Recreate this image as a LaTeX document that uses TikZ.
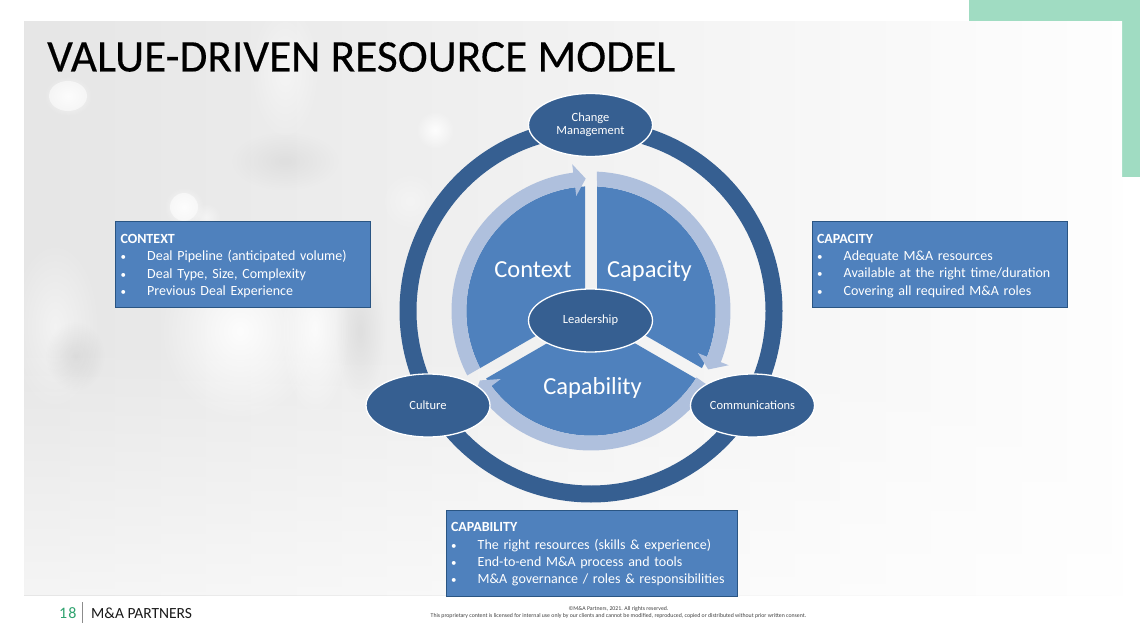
\documentclass[tikz,border=0pt]{standalone}
\usepackage{fontspec}
\setmainfont{Carlito}
\usetikzlibrary{fadings,shapes.geometric}
\definecolor{mint}{HTML}{A0DCC2}
\definecolor{ringblue}{HTML}{365F91}
\definecolor{midblue}{HTML}{4F81BD}
\definecolor{paleband}{HTML}{AFC0DD}
\definecolor{boxedge}{HTML}{2A5583}
\definecolor{numgreen}{HTML}{2FA36F}
\tikzfading[name=softblob,inner color=transparent!0,outer color=transparent!100]
\tikzfading[name=softv,left color=transparent!100,middle color=transparent!0,right color=transparent!100]
\tikzfading[name=softh,top color=transparent!100,middle color=transparent!0,bottom color=transparent!100]
\tikzset{
  x=1pt,y=1pt,
  hub/.style={ellipse,draw=white,line width=1.3pt,fill=ringblue,text=white,minimum width=124pt,minimum height=63pt,inner sep=0pt,align=center,font=\fontsize{12.5}{13.5}\selectfont},
  infobox/.style={rectangle,draw=boxedge,line width=1pt,fill=midblue,text=white,inner xsep=5pt,inner ysep=0pt,align=left,font=\fontsize{14}{17.3}\selectfont},
  wedgelabel/.style={text=white,inner sep=0pt,anchor=base,font=\fontsize{24.5}{26}\selectfont},
  blobw/.style={white,path fading=softblob},
  blobk/.style={black,path fading=softblob},
  barv/.style={black,path fading=softv},
  barh/.style={black,path fading=softh},
}
\newcommand{\bul}{\makebox[26.7pt][l]{{\fontsize{11}{11}\selectfont •}}}
\newcommand{\lift}{\rule{0pt}{12pt}}
\begin{document}
\begin{tikzpicture}
\useasboundingbox (0,0) rectangle (1140,641);
\fill[white] (0,0) rectangle (1140,641);
% green corner
\fill[mint] (969,641) rectangle (1140,619);
\fill[mint] (1122,641) rectangle (1140,464);
% photo background
\begin{scope}
\clip (24,46) rectangle (1122,619);
\shade[left color=black!10,middle color=black!6,right color=black!0.5] (24,46) rectangle (1122,619);
\fill[white,opacity=.6,path fading=north] (24,46) rectangle (1122,300);
% bright window bands, left
\fill[blobw,opacity=.9] (160,220) rectangle (320,400);
\fill[blobw,opacity=.8] (280,225) rectangle (350,400);
\fill[blobw,opacity=.5] (10,230) rectangle (100,400);
\fill[blobw,opacity=.5] (250,500) rectangle (320,640);
% darker smudges
\fill[blobk,opacity=.07] (45,250) rectangle (105,320);
\fill[blobk,opacity=.05] (230,450) rectangle (340,510);
\fill[blobk,opacity=.06] (335,240) rectangle (385,380);
\fill[blobw,opacity=.35] (380,410) rectangle (440,470);
% window lattice, right
\fill[barv,opacity=.11] (1020,110) rectangle (1040,630);
\fill[barv,opacity=.06] (902,130) rectangle (922,600);
\fill[barv,opacity=.05] (820,170) rectangle (840,590);
\fill[barh,opacity=.05] (820,125) rectangle (1122,155);
\fill[barh,opacity=.045] (820,325) rectangle (1122,350);
\fill[barh,opacity=.045] (930,540) rectangle (1122,565);
% bokeh spots
\fill[white,opacity=.55] (68,545) ellipse [x radius=19,y radius=15];
\fill[blobw,opacity=.8] (68,545) ellipse [x radius=24,y radius=20];
\fill[white,opacity=.55] (184,434) ellipse [x radius=14,y radius=14];
\fill[blobw,opacity=.8] (184,434) ellipse [x radius=20,y radius=20];
\fill[blobw,opacity=.5] (206,424) ellipse [x radius=15,y radius=14];
\fill[blobw,opacity=.9] (435,511) ellipse [x radius=19,y radius=19];
\end{scope}
% title
\node[anchor=base west,inner sep=0pt,text=black,font=\fontsize{45.3}{50}\selectfont\addfontfeature{FakeBold=0.3}] (title) at (47,569.5) {VALUE-DRIVEN RESOURCE MODEL};
% diagram
\begin{scope}[shift={(591,330)}]
\fill[ringblue,even odd rule] (0,0) circle [radius=191.5pt] (0,0) circle [radius=174.5pt];
\fill[midblue] (150:6.93pt) -- (92.76:124.7pt) arc[start angle=92.76,end angle=207.24,radius=124.7pt] -- cycle;
\fill[midblue] (30:6.93pt) -- (87.24:124.7pt) arc[start angle=87.24,end angle=-27.24,radius=124.7pt] -- cycle;
\fill[midblue] (270:6.93pt) -- (-32.76:124.7pt) arc[start angle=-32.76,end angle=-147.24,radius=124.7pt] -- cycle;
\fill[paleband] (207.5:139.5pt) arc[start angle=207.5,end angle=97.3,radius=139.5pt] -- (97.3:148pt) -- (92.3:132.5pt) -- (97.3:116pt) -- (97.3:124.7pt) arc[start angle=97.3,end angle=207.2,radius=124.7pt] -- cycle;
\fill[paleband] (87.6:139.5pt) arc[start angle=87.6,end angle=-21.5,radius=139.5pt] -- (-21.5:148pt) -- (-26.5:131pt) -- (-21.5:115pt) -- (-21.5:124.7pt) arc[start angle=-21.5,end angle=87.2,radius=124.7pt] -- cycle;
\fill[paleband] (-32.5:139.5pt) arc[start angle=-32.5,end angle=-143,radius=139.5pt] -- (-143:148pt) -- (-148:131pt) -- (-143:113pt) -- (-143:124.7pt) arc[start angle=-143,end angle=-32.2,radius=124.7pt] -- cycle;
\end{scope}
\node[wedgelabel] (context) at (533,363.5) {Context};
\node[wedgelabel] (capacity) at (649.5,363.5) {Capacity};
\node[wedgelabel] (capability) at (592.5,247) {Capability};
\node[hub] (change) at (590.5,516) {\raisebox{-.7pt}{Change}\\Management};
\node[hub] (leadership) at (590.5,320.5) {\raisebox{-1.5pt}{Leadership}};
\node[hub] (culture) at (428,235.5) {\raisebox{-.5pt}{Culture}};
\node[hub] (comms) at (752.5,235.5) {\raisebox{-.5pt}{Communications}};
% text boxes
\node[infobox,minimum width=255pt,minimum height=85.5pt,text width=245pt] (ctxbox) at (243,376.5) {\lift\textbf{CONTEXT}\\\bul Deal Pipeline (anticipated volume)\\\bul Deal Type, Size, Complexity\\\bul Previous Deal Experience};
\node[infobox,minimum width=255pt,minimum height=85.5pt,text width=245pt] (capbox) at (939.5,376.5) {\lift\textbf{CAPACITY}\\\bul Adequate M\&A resources\\\bul Available at the right time/duration\\\bul Covering all required M\&A roles};
\node[infobox,minimum width=291pt,minimum height=86pt,text width=281pt] (abilbox) at (591.5,88) {\lift\textbf{CAPABILITY}\\\bul The right resources (skills \& experience)\\\bul End-to-end M\&A process and tools\\\bul M\&A governance / roles \& responsibilities};
% footer
\node[anchor=base west,inner sep=0pt,text=numgreen,font=\fontsize{16}{18}\selectfont] (pagenum) at (59,23) {1\kern1.2pt 8};
\coordinate (sepa) at (82,39);
\coordinate (sepb) at (82,18);
\draw[black!45,line width=1pt] (sepa) -- (sepb);
\node[anchor=base west,inner sep=0pt,text=black!90,font=\fontsize{15.5}{18}\selectfont] (brand) at (91,23) {M\&A PARTNERS};
\node[inner sep=0pt,text=black!75,align=center,font=\fontsize{5.8}{7}\selectfont] (legal) at (618.5,28.5) {©M\&A Partners, 2021. All rights reserved.\\This proprietary content is licensed for internal use only by our clients and cannot be modified, reproduced, copied or distributed without prior written consent.};
\end{tikzpicture}
\end{document}
